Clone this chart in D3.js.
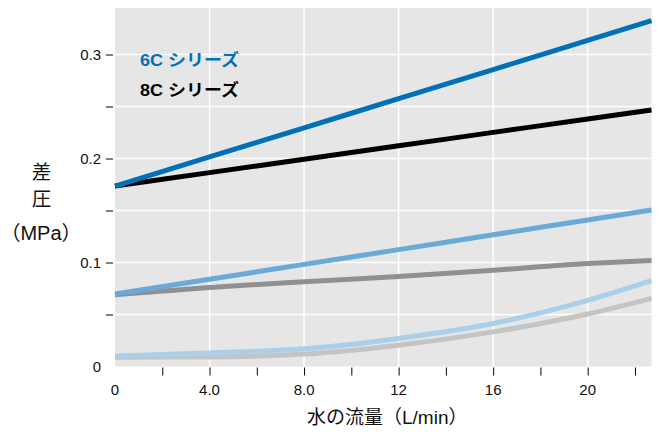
<!DOCTYPE html>
<html><head><meta charset="utf-8">
<script src="https://cdn.jsdelivr.net/npm/d3@7"></script>
<style>
body{margin:0;background:#fff;}
text{font-family:"Liberation Sans",Arial,"Noto Sans CJK JP",sans-serif;}
.cjk{font-family:"Noto Sans CJK JP",sans-serif;}
</style></head>
<body><svg id="c" width="657" height="432"></svg>
<script>
const flow = [0, 4, 8, 12, 16, 20, 22.7];
const s6C_high = [0.1735, 0.2015, 0.2295, 0.2575, 0.2855, 0.3135, 0.3325];
const s8C_high = [0.1735, 0.1864, 0.1993, 0.2122, 0.2251, 0.2380, 0.2466];
const s6C_mid  = [0.0697, 0.0839, 0.0982, 0.1124, 0.1267, 0.1409, 0.1505];
const s8C_mid  = [0.0690, 0.0760, 0.0815, 0.0865, 0.0925, 0.0990, 0.1020];
const s6C_low  = [0.0100, 0.0130, 0.0170, 0.0270, 0.0413, 0.0635, 0.0825];
const s8C_low  = [0.0090, 0.0092, 0.0120, 0.0205, 0.0333, 0.0505, 0.0656];
const seriesNames = ["6C シリーズ", "8C シリーズ"];
const xTickLabels = ["0", "4.0", "8.0", "12", "16", "20"];
const xLabelVals = [0, 4, 8, 12, 16, 20];
const xMinorTicks = [2, 4, 6, 8, 10, 12, 14, 16, 18, 20, 22];
const yLabelVals = [0, 0.1, 0.2, 0.3];
const yTickLabels = ["0", "0.1", "0.2", "0.3"];
const yTicks = [0.05, 0.1, 0.15, 0.2, 0.25, 0.3];
const xGrid = [4, 8, 12, 16, 20];

const svg = d3.select("#c");
const L = 115, R = 651.5, T = 8, B = 366.5;
const x = d3.scaleLinear().domain([0, 22.7]).range([L, R]);
const y = d3.scaleLinear().domain([0, (B - T) / 1040]).range([B, T]);

svg.append("rect").attr("x", L).attr("y", T).attr("width", R - L).attr("height", B - T).attr("fill", "#e6e6e6");

const g = svg.append("g");
g.selectAll(".gx").data(xGrid).join("line")
  .attr("x1", d => x(d)).attr("x2", d => x(d)).attr("y1", T).attr("y2", B)
  .attr("stroke", "#fff").attr("stroke-width", 1.5);
g.selectAll(".gy").data(yTicks).join("line")
  .attr("x1", L).attr("x2", R).attr("y1", d => y(d)).attr("y2", d => y(d))
  .attr("stroke", "#fff").attr("stroke-width", 1.5);

const line = d3.line().x(d => x(d[0])).y(d => y(d[1])).curve(d3.curveMonotoneX);
const series = [
  [s8C_low, "#c4c4c4"],
  [s6C_low, "#a9cfe9"],
  [s8C_mid, "#909090"],
  [s6C_mid, "#6aaad6"],
  [s8C_high, "#000000"],
  [s6C_high, "#0070b8"]
];
series.forEach(([vals, col]) => {
  svg.append("path").datum(flow.map((f, i) => [f, vals[i]]))
    .attr("d", line).attr("fill", "none").attr("stroke", col).attr("stroke-width", 5);
});

// y axis ticks
const yAxis = d3.axisLeft(y).tickValues(yTicks).tickSize(7).tickFormat("");
const ya = svg.append("g").attr("transform", `translate(${L - 2},0)`).call(yAxis);
ya.select(".domain").remove();
ya.selectAll("line").attr("stroke", "#000");
svg.selectAll(".yl").data(yLabelVals).join("text")
  .attr("x", 101).attr("y", d => y(d) + 5).attr("text-anchor", "end")
  .attr("font-size", 15).attr("fill", "#111").text((d, i) => yTickLabels[i]);

// x axis ticks
const xAxis = d3.axisBottom(x).tickValues(xMinorTicks).tickSize(8).tickFormat("");
const xa = svg.append("g").attr("transform", `translate(0,${B + 1})`).call(xAxis);
xa.select(".domain").remove();
xa.selectAll("line").attr("stroke", "#000");
svg.selectAll(".xl").data(xLabelVals).join("text")
  .attr("x", d => x(d)).attr("y", 395).attr("text-anchor", "middle")
  .attr("font-size", 15).attr("fill", "#111").text((d, i) => xTickLabels[i]);

// x axis title
svg.append("text").attr("x", 307).attr("y", 424).attr("font-size", 19).attr("fill", "#111").text("水の流量（L/min）");

// y axis title
svg.append("text").attr("class", "cjk").attr("x", 41.5).attr("y", 179).attr("text-anchor", "middle").attr("font-size", 19.5).attr("fill", "#111").text("差");
svg.append("text").attr("class", "cjk").attr("x", 41.5).attr("y", 206).attr("text-anchor", "middle").attr("font-size", 19.5).attr("fill", "#111").text("圧");
svg.append("text").attr("x", 41).attr("y", 240).attr("text-anchor", "middle").attr("font-size", 20).attr("fill", "#111").text("（MPa）");

// legend
svg.append("text").attr("x", 140).attr("y", 66).attr("font-size", 16.5).attr("font-weight", "bold").attr("fill", "#0070b8")
  .attr("textLength", 99).attr("lengthAdjust", "spacingAndGlyphs").text(seriesNames[0]);
svg.append("text").attr("x", 140).attr("y", 96).attr("font-size", 16.5).attr("font-weight", "bold").attr("fill", "#000")
  .attr("textLength", 99).attr("lengthAdjust", "spacingAndGlyphs").text(seriesNames[1]);
</script></body></html>
